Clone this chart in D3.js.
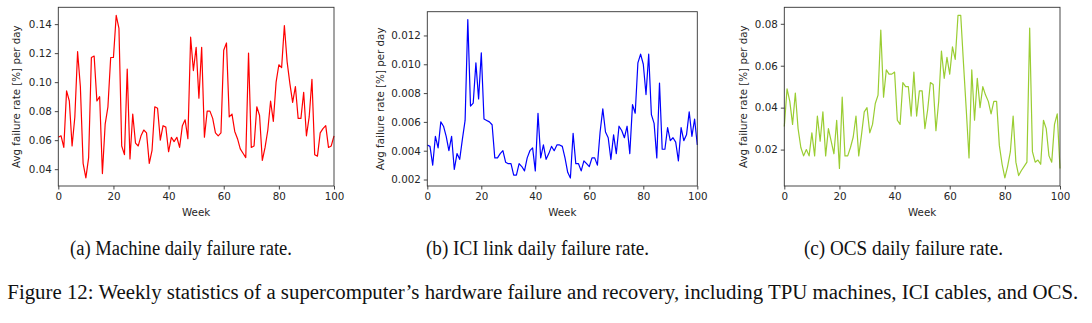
<!DOCTYPE html>
<html>
<head>
<meta charset="utf-8">
<script src="https://cdn.jsdelivr.net/npm/d3@7"></script>
<style>
  html, body { margin: 0; padding: 0; background: #fff; }
  svg { display: block; }
</style>
</head>
<body>
<svg id="chart" width="1092" height="323"></svg>
<script>
const weeks = d3.range(0, 101);

const machineRate = [
  0.062, 0.063, 0.055, 0.094, 0.087, 0.056, 0.076, 0.121, 0.097, 0.044,
  0.034, 0.048, 0.117, 0.118, 0.087, 0.090, 0.037, 0.071, 0.083, 0.117,
  0.117, 0.146, 0.137, 0.056, 0.050, 0.109, 0.047, 0.078, 0.058, 0.056,
  0.063, 0.067, 0.065, 0.044, 0.053, 0.083, 0.082, 0.060, 0.070, 0.069,
  0.052, 0.062, 0.059, 0.062, 0.055, 0.070, 0.074, 0.061, 0.131, 0.108,
  0.124, 0.089, 0.124, 0.062, 0.080, 0.080, 0.075, 0.065, 0.063, 0.065,
  0.122, 0.127, 0.076, 0.078, 0.066, 0.061, 0.054, 0.051, 0.048, 0.120,
  0.055, 0.056, 0.083, 0.077, 0.046, 0.055, 0.067, 0.087, 0.073, 0.100,
  0.112, 0.110, 0.139, 0.114, 0.099, 0.086, 0.097, 0.075, 0.075, 0.093,
  0.063, 0.076, 0.102, 0.050, 0.049, 0.065, 0.068, 0.070, 0.055, 0.056,
  0.063
];

const iciRate = [
  0.0044, 0.0043, 0.0030, 0.0050, 0.0042, 0.0060, 0.0057, 0.0050, 0.0040, 0.0050,
  0.0027, 0.0038, 0.0034, 0.0048, 0.0061, 0.0131, 0.0071, 0.0073, 0.0101, 0.0076,
  0.0108, 0.0062, 0.0061, 0.0060, 0.0058, 0.0035, 0.0035, 0.0038, 0.0040, 0.0032,
  0.0031, 0.0031, 0.0023, 0.0023, 0.0031, 0.0029, 0.0026, 0.0035, 0.0040, 0.0042,
  0.0026, 0.0066, 0.0035, 0.0044, 0.0034, 0.0038, 0.0043, 0.0040, 0.0044, 0.0044,
  0.0043, 0.0035, 0.0025, 0.0021, 0.0052, 0.0031, 0.0031, 0.0026, 0.0033, 0.0031,
  0.0029, 0.0035, 0.0035, 0.0030, 0.0053, 0.0069, 0.0053, 0.0049, 0.0034, 0.0051,
  0.0038, 0.0057, 0.0054, 0.0049, 0.0057, 0.0038, 0.0072, 0.0066, 0.0101, 0.0107,
  0.0100, 0.0079, 0.0107, 0.0065, 0.0059, 0.0035, 0.0087, 0.0041, 0.0041, 0.0056,
  0.0047, 0.0049, 0.0046, 0.0033, 0.0056, 0.0047, 0.0051, 0.0067, 0.0050, 0.0062,
  0.0044
];

const ocsRate = [
  0.031, 0.049, 0.043, 0.032, 0.047, 0.030, 0.021, 0.017, 0.020, 0.017,
  0.028, 0.017, 0.036, 0.024, 0.038, 0.017, 0.030, 0.024, 0.018, 0.034,
  0.011, 0.045, 0.017, 0.017, 0.021, 0.026, 0.036, 0.017, 0.027, 0.038,
  0.040, 0.028, 0.032, 0.042, 0.046, 0.077, 0.045, 0.058, 0.056, 0.056,
  0.057, 0.034, 0.032, 0.052, 0.050, 0.050, 0.036, 0.057, 0.036, 0.048,
  0.048, 0.030, 0.039, 0.052, 0.051, 0.029, 0.043, 0.067, 0.054, 0.064,
  0.056, 0.069, 0.063, 0.084, 0.084, 0.061, 0.039, 0.016, 0.058, 0.034,
  0.054, 0.040, 0.050, 0.046, 0.043, 0.037, 0.043, 0.043, 0.022, 0.013,
  0.0065, 0.012, 0.019, 0.036, 0.014, 0.0076, 0.010, 0.012, 0.014, 0.078,
  0.019, 0.014, 0.015, 0.013, 0.034, 0.030, 0.017, 0.014, 0.032, 0.037,
  0.011
];

const xTicks = [0, 20, 40, 60, 80, 100];
const machineTicks = [0.04, 0.06, 0.08, 0.10, 0.12, 0.14];
const iciTicks = [0.002, 0.004, 0.006, 0.008, 0.010, 0.012];
const ocsTicks = [0.02, 0.04, 0.06, 0.08];

const xLabel = "Week";
const yLabel = "Avg failure rate [%] per day";
const subCaptions = [
  "(a) Machine daily failure rate.",
  "(b) ICI link daily failure rate.",
  "(c) OCS daily failure rate."
];
const figCaption = "Figure 12: Weekly statistics of a supercomputer\u2019s hardware failure and recovery, including TPU machines, ICI cables, and OCS.";

const svg = d3.select("#chart");
const textColor = "#262626";

const panels = [
  { values: machineRate, ticks: machineTicks, fmt: ".2f", color: "#ff0000",
    left: 58.3, right: 334, top: 7.3, bottom: 186, ylabX: 16,
    cap: subCaptions[0], capX: 70, capW: 222 },
  { values: iciRate, ticks: iciTicks, fmt: ".3f", color: "#0000ff",
    left: 427.3, right: 697.3, top: 11.7, bottom: 186, ylabX: 380,
    cap: subCaptions[1], capX: 426, capW: 223 },
  { values: ocsRate, ticks: ocsTicks, fmt: ".2f", color: "#9acd32",
    left: 784.3, right: 1060, top: 7.3, bottom: 186, ylabX: 743,
    cap: subCaptions[2], capX: 804, capW: 199 }
];

panels.forEach(p => {
  const ext = d3.extent(p.values);
  const pad = (ext[1] - ext[0]) * 0.05;
  const x = d3.scaleLinear().domain([0, 100]).range([p.left, p.right]);
  const y = d3.scaleLinear().domain([ext[0] - pad, ext[1] + pad]).range([p.bottom, p.top]);

  const g = svg.append("g");

  const line = d3.line().x((d, i) => x(weeks[i])).y(d => y(d));
  g.append("path")
    .datum(p.values)
    .attr("fill", "none")
    .attr("stroke", p.color)
    .attr("stroke-width", 1.2)
    .attr("stroke-linejoin", "round")
    .attr("d", line);

  g.append("rect")
    .attr("x", p.left).attr("y", p.top)
    .attr("width", p.right - p.left).attr("height", p.bottom - p.top)
    .attr("fill", "none").attr("stroke", "#333").attr("stroke-width", 0.9);

  const xa = g.append("g").attr("transform", `translate(0,${p.bottom})`)
    .call(d3.axisBottom(x).tickValues(xTicks).tickFormat(d3.format("d")).tickSize(3.5).tickPadding(3));
  xa.select(".domain").remove();
  xa.selectAll("line").attr("stroke", "#333").attr("stroke-width", 0.9);
  xa.selectAll("text").attr("fill", textColor).style("font-family", "DejaVu Sans").style("font-size", "10.3px");

  const ya = g.append("g").attr("transform", `translate(${p.left},0)`)
    .call(d3.axisLeft(y).tickValues(p.ticks).tickFormat(d3.format(p.fmt)).tickSize(3.5).tickPadding(3));
  ya.select(".domain").remove();
  ya.selectAll("line").attr("stroke", "#333").attr("stroke-width", 0.9);
  ya.selectAll("text").attr("fill", textColor).style("font-family", "DejaVu Sans").style("font-size", "10.3px");

  g.append("text")
    .attr("x", (p.left + p.right) / 2).attr("y", 216)
    .attr("text-anchor", "middle").attr("fill", textColor)
    .style("font-family", "DejaVu Sans").style("font-size", "10.3px")
    .text(xLabel);

  g.append("text")
    .attr("transform", `translate(${p.ylabX},${(p.top + p.bottom) / 2}) rotate(-90)`)
    .attr("text-anchor", "middle").attr("dominant-baseline", "central").attr("fill", textColor)
    .style("font-family", "DejaVu Sans").style("font-size", "10.3px")
    .text(yLabel);

  svg.append("text")
    .attr("x", p.capX).attr("y", 254.5)
    .attr("textLength", p.capW).attr("lengthAdjust", "spacingAndGlyphs")
    .attr("fill", "#111")
    .style("font-family", "Liberation Serif").style("font-size", "20.5px")
    .text(p.cap);
});

svg.append("text")
  .attr("x", 7.3).attr("y", 299)
  .attr("textLength", 1071).attr("lengthAdjust", "spacingAndGlyphs")
  .attr("fill", "#111")
  .style("font-family", "Liberation Serif").style("font-size", "20.5px")
  .text(figCaption);
</script>
</body>
</html>
